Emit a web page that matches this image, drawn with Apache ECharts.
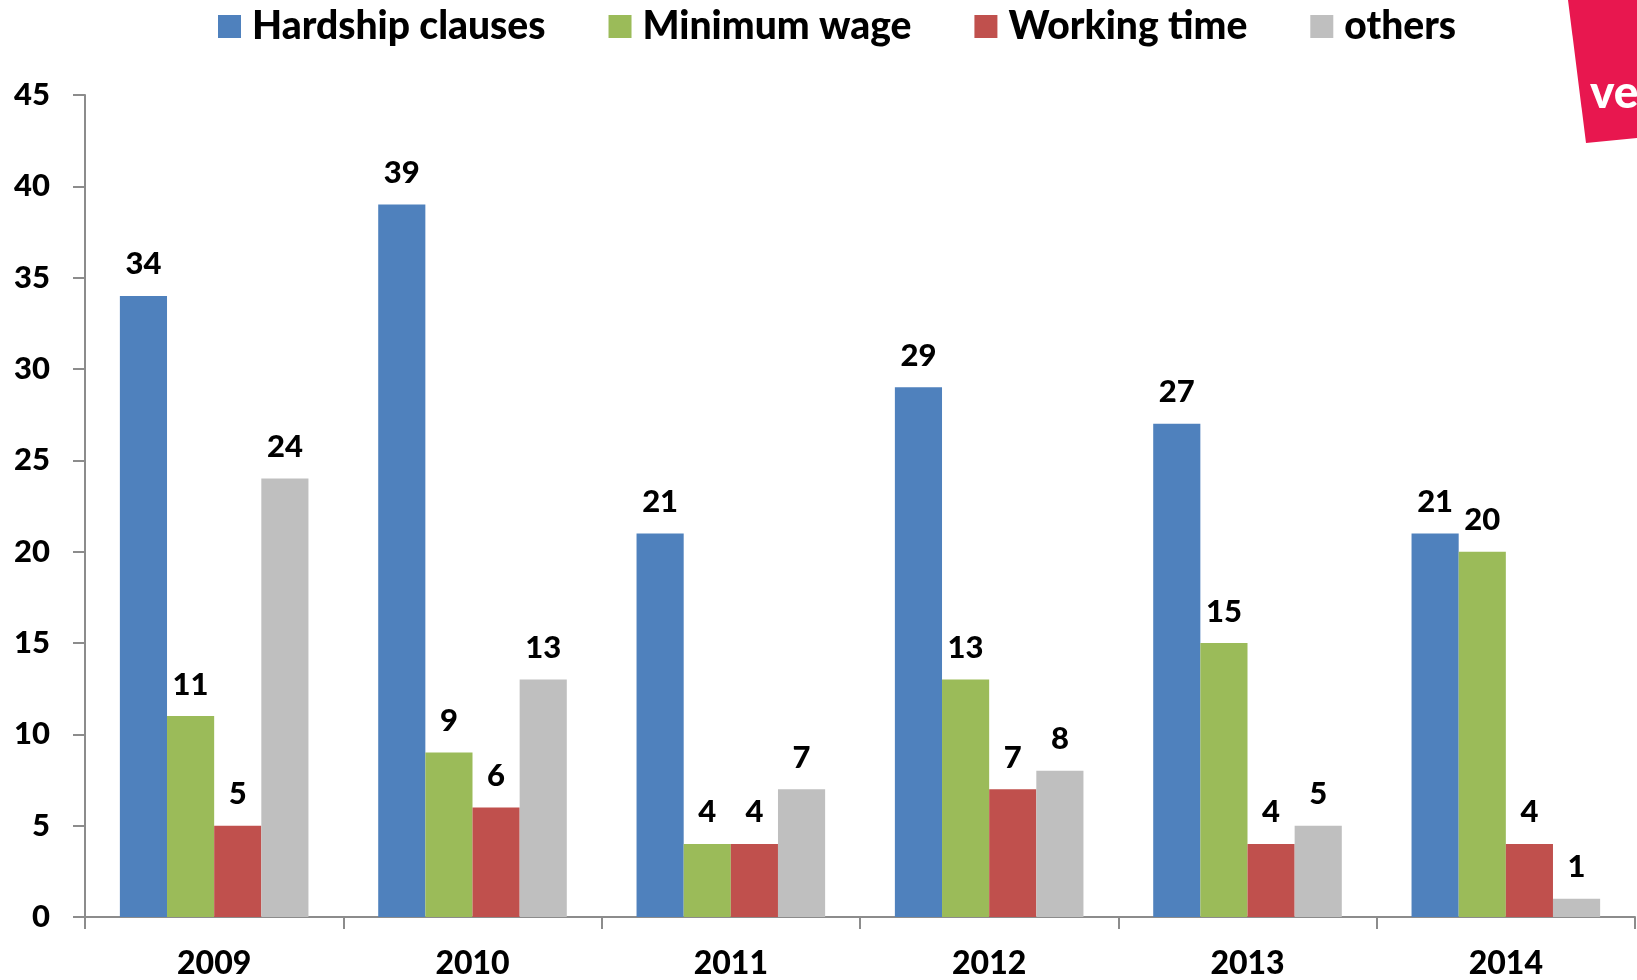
<!DOCTYPE html>
<html>
<head>
<meta charset="utf-8">
<script src="https://cdn.jsdelivr.net/npm/echarts@6/dist/echarts.min.js"></script>
<style>
  html, body { margin: 0; padding: 0; background: #fff; }
  #chart { width: 1637px; height: 980px; }
</style>
</head>
<body>
<div id="chart"></div>
<script>
// Collective agreement topics per year
const years = ['2009', '2010', '2011', '2012', '2013', '2014'];
const hardshipClauses = [34, 39, 21, 29, 27, 21];
const minimumWage = [11, 9, 4, 13, 15, 20];
const workingTime = [5, 6, 4, 7, 4, 4];
const others = [24, 13, 7, 8, 5, 1];
const yTicks = { min: 0, max: 45, interval: 5 };

const FONT = 'Lato, "Open Sans", sans-serif';
const WEIGHT = 900;
const AXIS_GREY = '#8c8c8c';

const chart = echarts.init(document.getElementById('chart'), null, { renderer: 'canvas' });

function barSeries(name, data, color) {
  return {
    name: name,
    type: 'bar',
    data: data,
    barGap: '0%',
    barCategoryGap: '27%',
    itemStyle: { color: color },
    label: {
      show: true,
      position: 'top',
      distance: 16,
      color: '#000',
      fontFamily: FONT,
      fontWeight: WEIGHT,
      fontSize: 31
    }
  };
}

chart.setOption({
  animation: false,
  backgroundColor: '#fff',
  legend: {
    top: 2,
    left: 213,
    itemWidth: 23,
    itemHeight: 23,
    itemGap: 63,
    icon: 'rect',
    textStyle: {
      fontFamily: FONT,
      fontWeight: WEIGHT,
      fontSize: 39,
      color: '#000',
      padding: [0, 0, 0, 6]
    },
    data: ['Hardship clauses', 'Minimum wage', 'Working time', 'others']
  },
  grid: { left: 85, right: 2, top: 95, bottom: 63, containLabel: false },
  xAxis: {
    type: 'category',
    data: years,
    axisLine: { lineStyle: { color: AXIS_GREY, width: 2 } },
    axisTick: { show: true, length: 12, lineStyle: { color: AXIS_GREY, width: 2 } },
    axisLabel: {
      margin: 31,
      color: '#000',
      fontFamily: FONT,
      fontWeight: WEIGHT,
      fontSize: 32
    },
    splitLine: { show: false }
  },
  yAxis: {
    type: 'value',
    min: yTicks.min,
    max: yTicks.max,
    interval: yTicks.interval,
    axisLine: { show: true, lineStyle: { color: AXIS_GREY, width: 2 } },
    axisTick: { show: true, length: 12, lineStyle: { color: AXIS_GREY, width: 2 } },
    axisLabel: {
      margin: 35,
      color: '#000',
      fontFamily: FONT,
      fontWeight: WEIGHT,
      fontSize: 31
    },
    splitLine: { show: false }
  },
  series: [
    barSeries('Hardship clauses', hardshipClauses, '#4F81BD'),
    barSeries('Minimum wage', minimumWage, '#9BBB59'),
    barSeries('Working time', workingTime, '#C0504D'),
    barSeries('others', others, '#BFBFBF')
  ],
  graphic: [
    {
      type: 'polygon',
      shape: { points: [[1568, 0], [1637, 0], [1637, 138], [1586, 143]] },
      style: { fill: '#E8174F' },
      z: 10
    },
    {
      type: 'text',
      x: 1590,
      y: 70,
      style: {
        text: 've',
        fill: '#fff',
        font: '900 46px ' + FONT
      },
      z: 11
    }
  ]
});
</script>
</body>
</html>
